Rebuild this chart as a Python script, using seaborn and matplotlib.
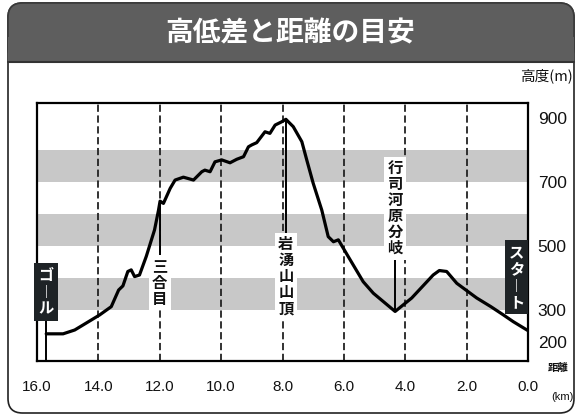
import numpy as np
import pandas as pd
import seaborn as sns
import matplotlib.pyplot as plt
from matplotlib.patches import FancyBboxPatch, Rectangle

# 距離(km) と 高度(m)  ゴール(左) -> スタート(右)
dist_km = [15.7, 15.15, 14.77, 14.39, 13.96, 13.58, 13.34, 13.2, 13.04, 12.93,
           12.82, 12.66, 12.44, 12.17, 12.04, 11.99, 11.88, 11.66, 11.5, 11.23,
           10.9, 10.63, 10.53, 10.36, 10.2, 9.98, 9.71, 9.49, 9.27, 9.11,
           9.0, 8.84, 8.57, 8.41, 8.24, 8.03, 7.89, 7.65, 7.37, 7.21,
           7.0, 6.72, 6.51, 6.34, 6.18, 5.86, 5.37, 5.04, 4.33, 3.79,
           3.09, 2.89, 2.65, 2.32, 1.67, 1.21, 0.8, 0.48, 0.0]
elev_m = [225, 225, 237, 259, 284, 310, 362, 375, 420, 425,
          404, 409, 467, 550, 612, 640, 633, 680, 706, 715,
          706, 732, 737, 732, 763, 769, 760, 771, 779, 810,
          816, 823, 857, 852, 878, 888, 896, 873, 826, 769,
          696, 612, 529, 513, 519, 467, 388, 352, 295, 337,
          409, 423, 420, 383, 337, 310, 284, 263, 235]

x_ticks = [16, 14, 12, 10, 8, 6, 4, 2, 0]
y_ticks = [900, 700, 500, 300, 200]
band_lo = [300, 500, 700]   # 灰色の帯(100m幅)

# 地点名
marks = ['三合目', '岩湧山山頂', '行司河原分岐']
mark_km = [12.0, 7.89, 4.33]
mark_text_y = [385, 405, 618]
goal_km = 15.7
start_km = 0.37

df = pd.DataFrame({'km': dist_km, 'm': elev_m})

sns.set_theme(style='white')
plt.rcParams['font.family'] = ['Noto Sans CJK JP', 'DejaVu Sans']

fig = plt.figure(figsize=(5.8, 4.2), dpi=100)
W, H = 580, 420

# 外枠とタイトル帯
fig.add_artist(FancyBboxPatch((8 / W, 1 - 413 / H), 566 / W, 410 / H,
                              boxstyle='round,pad=0,rounding_size=0.025',
                              mutation_aspect=W / H, transform=fig.transFigure,
                              facecolor='white', edgecolor='#222222', lw=1.2,
                              zorder=-3))
fig.add_artist(FancyBboxPatch((8 / W, 1 - 62 / H), 566 / W, 59 / H,
                              boxstyle='round,pad=0,rounding_size=0.025',
                              mutation_aspect=W / H, transform=fig.transFigure,
                              facecolor='#5e5e5e', edgecolor='#3a3a3a', lw=1.2,
                              zorder=-2))
fig.add_artist(Rectangle((8 / W, 1 - 62 / H), 566 / W, 25 / H,
                         transform=fig.transFigure, facecolor='#5e5e5e',
                         edgecolor='none', zorder=-2))
fig.add_artist(plt.Line2D([8 / W, 574 / W], [1 - 62 / H, 1 - 62 / H],
                          transform=fig.transFigure, color='#333333', lw=1.5,
                          zorder=-1))
fig.text(0.5, 1 - 33 / H, '高低差と距離の目安', ha='center', va='center',
         color='white', fontsize=20, fontweight='bold')

ax = fig.add_axes([37 / W, 1 - 361 / H, 491 / W, 258 / H])
ax.set_zorder(2)
ax.set_facecolor('white')

for lo in band_lo:
    ax.axhspan(lo, lo + 100, color='#c8c8c8', lw=0, zorder=0)
for t in x_ticks[1:-1]:
    ax.axvline(t, color='#222222', lw=1.3, ls=(0, (4, 2)), zorder=1)

sns.lineplot(data=df, x='km', y='m', color='black', lw=2.3, sort=False,
             ax=ax, zorder=3)

ax.set_xlim(16, 0)
ax.set_ylim(140, 947)

# 地点のマーカー線とラベル
xp = dist_km[::-1]
fp = elev_m[::-1]
for name, k, ty in zip(marks, mark_km, mark_text_y):
    e = np.interp(k, xp, fp)
    ax.plot([k, k], [e, ty], color='black', lw=1.4, zorder=4)
    ax.text(k, ty, '\n'.join(name), ha='center', va='center', fontsize=11,
            fontweight='bold', linespacing=1.0, zorder=5, color='#111111',
            bbox=dict(facecolor='white', edgecolor='none', pad=2.5))

# ゴール / スタート
ax.plot([goal_km, goal_km], [140, 356], color='black', lw=1.4, zorder=4)
ax.text(goal_km, 356, '\n'.join(['ゴ', '︱', 'ル']), ha='center', va='center',
        color='white', fontsize=11, fontweight='bold', linespacing=1.05,
        zorder=6, bbox=dict(facecolor='#1e2326', edgecolor='none', pad=3))
ax.text(start_km, 402, '\n'.join(['ス', 'タ', '︱', 'ト']), ha='center',
        va='center', color='white', fontsize=11, fontweight='bold',
        linespacing=1.05, zorder=6,
        bbox=dict(facecolor='#1e2326', edgecolor='none', pad=3))

ax.set_xticks(x_ticks)
ax.set_xticklabels([f'{t:.1f}' for t in x_ticks], fontsize=11,
                   family=['Liberation Sans', 'DejaVu Sans'])
ax.yaxis.tick_right()
ax.set_yticks(y_ticks)
ax.set_yticklabels([str(t) for t in y_ticks], fontsize=12.5,
                   family=['Liberation Sans', 'DejaVu Sans'])
ax.tick_params(axis='x', length=0, pad=14, colors='#111111')
ax.tick_params(axis='y', length=0, pad=7, colors='#111111')
ax.set_xlabel('')
ax.set_ylabel('')
for s in ax.spines.values():
    s.set_visible(True)
    s.set_color('black')
    s.set_linewidth(1.6)

fig.text(573 / W, 1 - 76 / H, '高度(m)', ha='right', va='center', fontsize=10.5,
         color='#111111')
fig.text(569 / W, 1 - 368 / H, '距離', ha='right', va='center', fontsize=7.5,
         fontweight='bold', color='#111111')
fig.text(574 / W, 1 - 397 / H, '(km)', ha='right', va='center', fontsize=8,
         family=['Liberation Sans', 'DejaVu Sans'], color='#111111')

fig.savefig('out.png', dpi=100)
